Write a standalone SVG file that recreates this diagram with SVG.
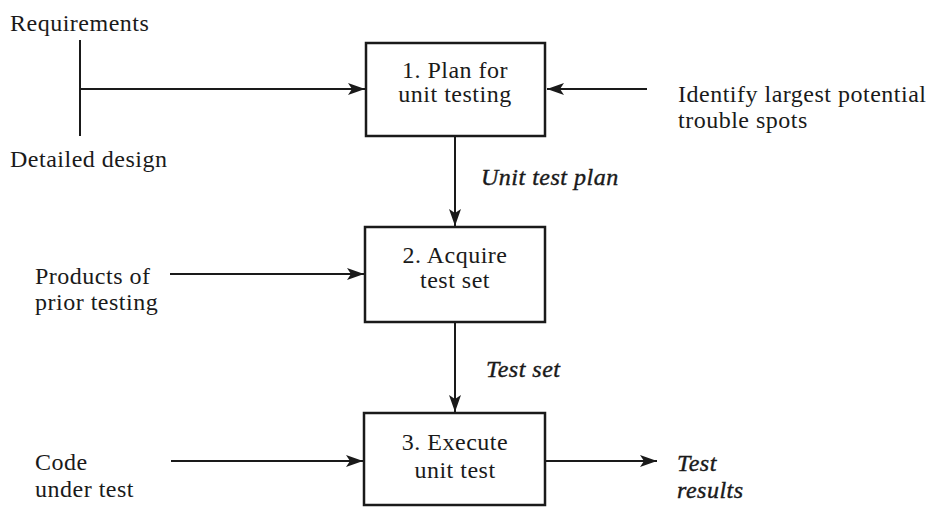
<svg xmlns="http://www.w3.org/2000/svg" width="930" height="507" viewBox="0 0 930 507">
<style>
text{font-family:"Liberation Serif","Times New Roman",serif;font-size:24px;letter-spacing:0.5px;fill:#1a1a1a}
.c{text-anchor:middle}
.i{font-style:italic;stroke:#1a1a1a;stroke-width:0.4}
.box{fill:#fff;stroke:#1a1a1a;stroke-width:2.5}
.ln{fill:none;stroke:#1a1a1a;stroke-width:2}
</style>
<defs>
<marker id="ah" markerWidth="17" markerHeight="12" refX="17" refY="6" orient="auto" markerUnits="userSpaceOnUse">
<path d="M0,0 L17,6 L0,12 L4,6 Z" fill="#1a1a1a"/>
</marker>
</defs>
<g id="connectors">
<line class="ln" x1="80" y1="40" x2="80" y2="136"/>
<line class="ln" x1="80" y1="89" x2="365" y2="89" marker-end="url(#ah)"/>
<line class="ln" x1="647" y1="89" x2="547" y2="89" marker-end="url(#ah)"/>
<line class="ln" x1="455" y1="136" x2="455" y2="226" marker-end="url(#ah)"/>
<line class="ln" x1="170" y1="274" x2="364" y2="274" marker-end="url(#ah)"/>
<line class="ln" x1="455" y1="322" x2="455" y2="412" marker-end="url(#ah)"/>
<line class="ln" x1="171" y1="461" x2="363" y2="461" marker-end="url(#ah)"/>
<line class="ln" x1="546" y1="461" x2="657" y2="461" marker-end="url(#ah)"/>
<text class="i" x="481" y="185">Unit test plan</text>
<text class="i" x="486" y="377">Test set</text>
</g>
<g id="requirements"><text x="10" y="31">Requirements</text></g>
<g id="detailed-design"><text x="10" y="167">Detailed design</text></g>
<g id="trouble-spots"><text x="678" y="102">Identify largest potential</text><text x="678" y="128">trouble spots</text></g>
<g id="products"><text x="35" y="284">Products of</text><text x="35" y="310">prior testing</text></g>
<g id="code"><text x="35" y="470">Code</text><text x="35" y="497">under test</text></g>
<g id="results"><text class="i" x="677" y="471">Test</text><text class="i" x="677" y="498">results</text></g>
<g id="n1"><rect class="box" x="366" y="43" width="179" height="93"/><text class="c" x="455" y="78">1. Plan for</text><text class="c" x="455" y="102">unit testing</text></g>
<g id="n2"><rect class="box" x="365" y="227" width="180" height="95"/><text class="c" x="455" y="263">2. Acquire</text><text class="c" x="455" y="288">test set</text></g>
<g id="n3"><rect class="box" x="364" y="413" width="181" height="92"/><text class="c" x="455" y="450">3. Execute</text><text class="c" x="455" y="478">unit test</text></g>
</svg>
